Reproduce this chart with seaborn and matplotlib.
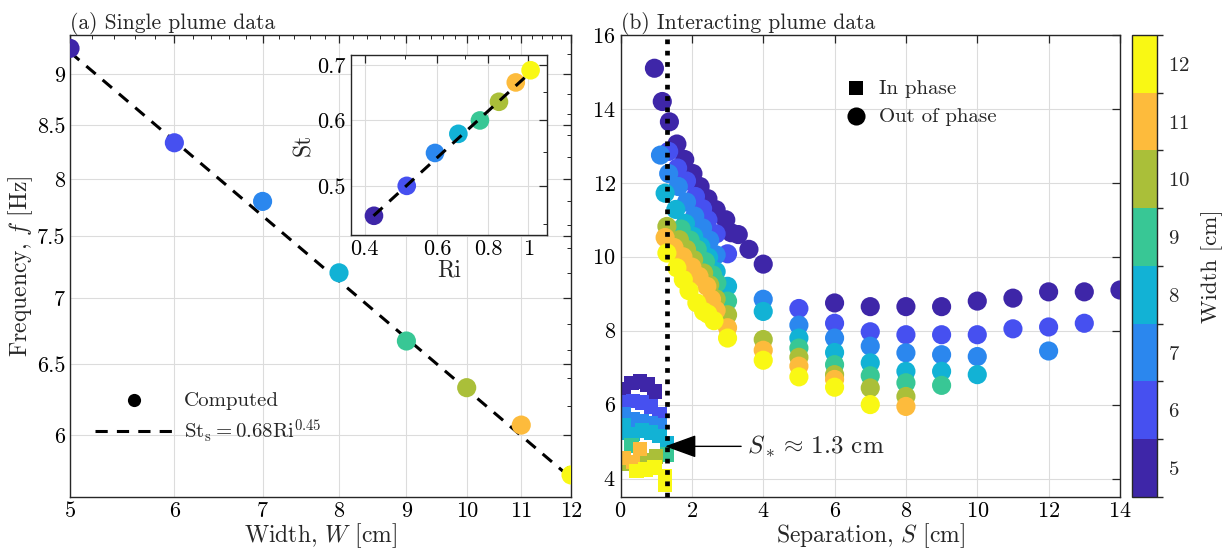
import matplotlib
matplotlib.use("Agg")
import matplotlib.pyplot as plt
import matplotlib.colors as mcolors
import matplotlib.ticker as mticker
import numpy as np
import pandas as pd
import seaborn as sns

# widths and their colours (8-level parula)
widths = [5, 6, 7, 8, 9, 10, 11, 12]
width_colors = ['#3E26A8', '#4650F0', '#2B87EE', '#12B2D5',
                '#38C795', '#AABF39', '#FDBB3C', '#F9F814']

# (a) single plume data
single_W = [5, 6, 7, 8, 9, 10, 11, 12]
single_f = [9.26, 8.33, 7.80, 7.20, 6.67, 6.33, 6.07, 5.74]
fit_W = [5, 12]
fit_f = [9.22, 5.72]

# inset: Strouhal vs Richardson
inset_Ri = [0.421, 0.506, 0.593, 0.676, 0.763, 0.849, 0.933, 1.014]
inset_St = [0.46, 0.50, 0.548, 0.578, 0.60, 0.632, 0.667, 0.69]
fit_Ri = [0.42, 1.01]
fit_St = [0.46, 0.685]

# (b) interacting plume data, out of phase (circles)
out_S = {
    5: [0.95, 1.17, 1.37, 1.58, 1.8, 2.03, 2.23, 2.45, 2.68, 2.95, 3.1, 3.3, 3.6, 4,
        6, 7, 8, 9, 10, 11, 12, 13, 14],
    6: [1.35, 1.6, 1.85, 2.1, 2.3, 2.45, 2.68, 3, 5, 6, 7, 8, 9, 10, 11, 12, 13],
    7: [1.12, 1.35, 1.62, 1.85, 2.08, 2.3, 2.5, 2.68, 4, 5, 6, 7, 8, 9, 10, 12],
    8: [1.25, 1.55, 1.82, 2.05, 2.25, 2.47, 2.68, 3, 4, 5, 6, 7, 8, 9, 10],
    9: [1.7, 1.95, 2.15, 2.38, 2.58, 2.7, 3, 5, 6, 7, 8, 9],
    10: [1.3, 1.65, 1.85, 2.05, 2.33, 2.5, 2.68, 3, 4, 5, 6, 7, 8],
    11: [1.25, 1.5, 1.75, 2.0, 2.2, 2.42, 2.55, 2.68, 3, 4, 5, 6, 8],
    12: [1.3, 1.58, 1.76, 1.92, 2.14, 2.33, 2.45, 2.62, 3, 4, 5, 6, 7],
}
out_f = {
    5: [15.1, 14.2, 13.65, 13.05, 12.63, 12.25, 11.9, 11.57, 11.27, 11.0, 10.65, 10.6,
        10.2, 9.8, 8.75, 8.65, 8.65, 8.65, 8.8, 8.88, 9.05, 9.05, 9.1],
    6: [12.85, 12.4, 12.05, 11.63, 11.3, 11.0, 10.62, 10.08, 8.6, 8.2, 7.97, 7.89,
        7.89, 7.89, 8.05, 8.1, 8.2],
    7: [12.75, 12.25, 11.9, 11.48, 11.1, 10.78, 10.45, 10.05, 8.85, 8.15, 7.8, 7.58,
        7.4, 7.35, 7.3, 7.45],
    8: [11.72, 11.28, 10.9, 10.55, 10.28, 9.98, 9.6, 9.2, 8.52, 7.8, 7.41, 7.13,
        6.9, 6.9, 6.81],
    9: [10.75, 10.45, 10.2, 9.87, 9.51, 9.29, 8.8, 7.53, 7.08, 6.78, 6.59, 6.52],
    10: [10.82, 10.46, 10.2, 9.92, 9.56, 9.24, 8.86, 8.43, 7.76, 7.28, 6.81, 6.45, 6.22],
    11: [10.52, 10.25, 10.0, 9.72, 9.47, 9.2, 8.85, 8.55, 8.08, 7.47, 7.04, 6.68, 5.95],
    12: [10.1, 9.7, 9.38, 9.08, 8.75, 8.52, 8.45, 8.27, 7.8, 7.2, 6.75, 6.47, 6.0],
}

# (b) in phase (squares)
in_S = {
    5: [0.1, 0.1, 0.3, 0.55, 0.75, 0.95],
    6: [0.1, 0.35, 0.6, 0.85, 1.1],
    7: [0.1, 0.35, 0.6, 0.85, 1.1],
    8: [0.1, 0.1, 0.35, 0.6, 0.85, 1.1, 1.3],
    9: [0.3, 1.3],
    10: [0.1, 0.75, 1.0],
    11: [0.1, 0.35, 0.55],
    12: [0.45, 0.7, 0.95, 1.25, 1.25],
}
in_f = {
    5: [6.25, 6.42, 6.58, 6.62, 6.55, 6.35],
    6: [6.05, 6.1, 6.05, 5.95, 5.75],
    7: [5.75, 5.6, 5.55, 5.5, 5.45],
    8: [5.45, 5.25, 5.2, 5.3, 5.25, 5.15, 4.95],
    9: [4.9, 4.65],
    10: [4.4, 4.5, 4.6],
    11: [4.55, 4.45, 4.8],
    12: [4.2, 4.25, 4.3, 4.05, 3.82],
}

S_star = 1.3

sns.set_theme(style="white")
plt.rcParams['font.family'] = ['cmr10', 'DejaVu Serif']
plt.rcParams['mathtext.fontset'] = 'cm'
plt.rcParams['axes.formatter.use_mathtext'] = True
plt.rcParams['axes.unicode_minus'] = False

palette = dict(zip(widths, width_colors))
edge = '#262626'
grid_c = '#dcdcdc'


def style_axes(ax, fs=16):
    for sp in ax.spines.values():
        sp.set_color(edge)
        sp.set_linewidth(1.0)
    ax.tick_params(which='both', direction='in', top=True, right=True,
                   colors=edge, labelcolor='black', labelsize=fs)
    ax.tick_params(which='major', length=6, width=0.9)
    ax.tick_params(which='minor', length=3, width=0.7)
    ax.grid(True, which='major', color=grid_c, linewidth=0.8)
    ax.set_axisbelow(True)


fig = plt.figure(figsize=(12.22, 5.5), dpi=100)
ax1 = fig.add_axes([0.0573, 0.0964, 0.410, 0.840])
ax2 = fig.add_axes([0.5078, 0.0964, 0.4087, 0.840])
cax = fig.add_axes([0.9264, 0.0964, 0.0204, 0.840])
axin = fig.add_axes([0.2872, 0.5727, 0.1602, 0.3273])

# ---- (a) single plume
df_single = pd.DataFrame({'W': single_W, 'f': single_f})
ax1.plot(fit_W, fit_f, ls=(0, (4, 3)), color='black', lw=2.2, zorder=2)
sns.scatterplot(data=df_single, x='W', y='f', hue='W', palette=palette, s=190,
                linewidth=0, legend=False, ax=ax1, zorder=3)
ax1.set_xscale('log')
ax1.set_yscale('log')
ax1.set_xlim(5, 12)
ax1.set_ylim(5.6, 9.4)
ax1.xaxis.set_major_locator(mticker.FixedLocator(range(5, 13)))
ax1.xaxis.set_major_formatter(mticker.FixedFormatter([str(v) for v in range(5, 13)]))
ax1.xaxis.set_minor_locator(mticker.FixedLocator(np.arange(5, 12.01, 0.2)))
ax1.xaxis.set_minor_formatter(mticker.NullFormatter())
yt = [6, 6.5, 7, 7.5, 8, 8.5, 9]
ax1.yaxis.set_major_locator(mticker.FixedLocator(yt))
ax1.yaxis.set_major_formatter(mticker.FixedFormatter(['6', '6.5', '7', '7.5', '8', '8.5', '9']))
ax1.yaxis.set_minor_locator(mticker.FixedLocator(np.arange(5.6, 9.41, 0.2)))
ax1.yaxis.set_minor_formatter(mticker.NullFormatter())
style_axes(ax1)
ax1.set_xlabel('Width, $W$ [cm]', fontsize=17, labelpad=0)
ax1.set_ylabel('Frequency, $f$ [Hz]', fontsize=17, labelpad=1)
ax1.set_title('(a) Single plume data', loc='left', fontsize=15.5, pad=4)

h1 = ax1.scatter([], [], s=90, color='black', linewidth=0)
h2, = ax1.plot([], [], ls=(0, (4, 3)), color='black', lw=2.2)
ax1.legend([h1, h2], ['Computed', r'$\mathrm{St_s} = 0.68\mathrm{Ri}^{0.45}$'],
           loc='lower left', bbox_to_anchor=(0.012, 0.072), frameon=False,
           fontsize=15, handlelength=3.8, handletextpad=0.5, labelspacing=0.35)

# ---- inset
df_in = pd.DataFrame({'Ri': inset_Ri, 'St': inset_St, 'W': widths})
axin.plot(fit_Ri, fit_St, ls=(0, (4, 3)), color='black', lw=2.2, zorder=3)
sns.scatterplot(data=df_in, x='Ri', y='St', hue='W', palette=palette, s=180,
                linewidth=0, legend=False, ax=axin, zorder=2)
axin.set_xscale('log')
axin.set_yscale('log')
axin.set_xlim(0.37, 1.11)
axin.set_ylim(0.436, 0.72)
axin.xaxis.set_major_locator(mticker.FixedLocator([0.4, 0.6, 0.8, 1.0]))
axin.xaxis.set_major_formatter(mticker.FixedFormatter(['0.4', '0.6', '0.8', '1']))
axin.xaxis.set_minor_locator(mticker.FixedLocator([0.5, 0.7, 0.9]))
axin.xaxis.set_minor_formatter(mticker.NullFormatter())
axin.yaxis.set_major_locator(mticker.FixedLocator([0.5, 0.6, 0.7]))
axin.yaxis.set_major_formatter(mticker.FixedFormatter(['0.5', '0.6', '0.7']))
axin.yaxis.set_minor_locator(mticker.FixedLocator([0.45, 0.55, 0.65]))
axin.yaxis.set_minor_formatter(mticker.NullFormatter())
style_axes(axin)
axin.set_facecolor('white')
axin.set_xlabel('Ri', fontsize=17, labelpad=0)
axin.set_ylabel('St', fontsize=17, labelpad=2)

# ---- (b) interacting plumes
rows_out = []
for w in widths:
    for s_, f_ in zip(out_S[w], out_f[w]):
        rows_out.append({'S': s_, 'f': f_, 'W': w})
df_out = pd.DataFrame(rows_out)
rows_in = []
for w in widths:
    for s_, f_ in zip(in_S[w], in_f[w]):
        rows_in.append({'S': s_, 'f': f_, 'W': w})
df_inph = pd.DataFrame(rows_in)

sns.scatterplot(data=df_inph, x='S', y='f', hue='W', palette=palette, marker='s',
                s=110, linewidth=0, legend=False, ax=ax2, zorder=2)
sns.scatterplot(data=df_out, x='S', y='f', hue='W', palette=palette, marker='o',
                s=190, linewidth=0, legend=False, ax=ax2, zorder=3)
ax2.axvline(S_star, color='black', lw=3.4, ls=(0, (1, 1.4)), zorder=5)
ax2.annotate(r'$S_* \approx\, 1.3$ cm', xy=(S_star - 0.05, 4.87), xytext=(3.55, 4.87),
             fontsize=18, va='center', ha='left',
             arrowprops=dict(arrowstyle='-|>,head_length=1.1,head_width=0.4',
                             color='black', lw=1.0, mutation_scale=18,
                             shrinkA=2, shrinkB=0))
ax2.set_xlim(0, 14)
ax2.set_ylim(3.5, 16)
ax2.set_xticks(range(0, 15, 2))
ax2.set_yticks(range(4, 17, 2))
style_axes(ax2)
ax2.set_xlabel('Separation, $S$ [cm]', fontsize=17, labelpad=0)
ax2.set_ylabel('')
ax2.set_title('(b) Interacting plume data', loc='left', fontsize=15.5, pad=4)

hs = ax2.scatter([], [], marker='s', s=110, color='black', linewidth=0)
hc = ax2.scatter([], [], marker='o', s=170, color='black', linewidth=0)
ax2.legend([hs, hc], ['In phase', 'Out of phase'], loc='upper left',
           bbox_to_anchor=(0.393, 0.945), frameon=False, fontsize=15,
           handletextpad=0.1, labelspacing=0.45)

# ---- colour bar
cmap = mcolors.ListedColormap(width_colors)
norm = mcolors.BoundaryNorm(np.arange(4.5, 13.0, 1.0), cmap.N)
cb = fig.colorbar(plt.cm.ScalarMappable(norm=norm, cmap=cmap), cax=cax, ticks=widths)
cb.outline.set_edgecolor(edge)
cb.outline.set_linewidth(1.0)
cax.tick_params(length=0, labelsize=15, pad=8)
cb.set_label('Width [cm]', fontsize=16.5, labelpad=8)

fig.savefig('out.png', dpi=100)
